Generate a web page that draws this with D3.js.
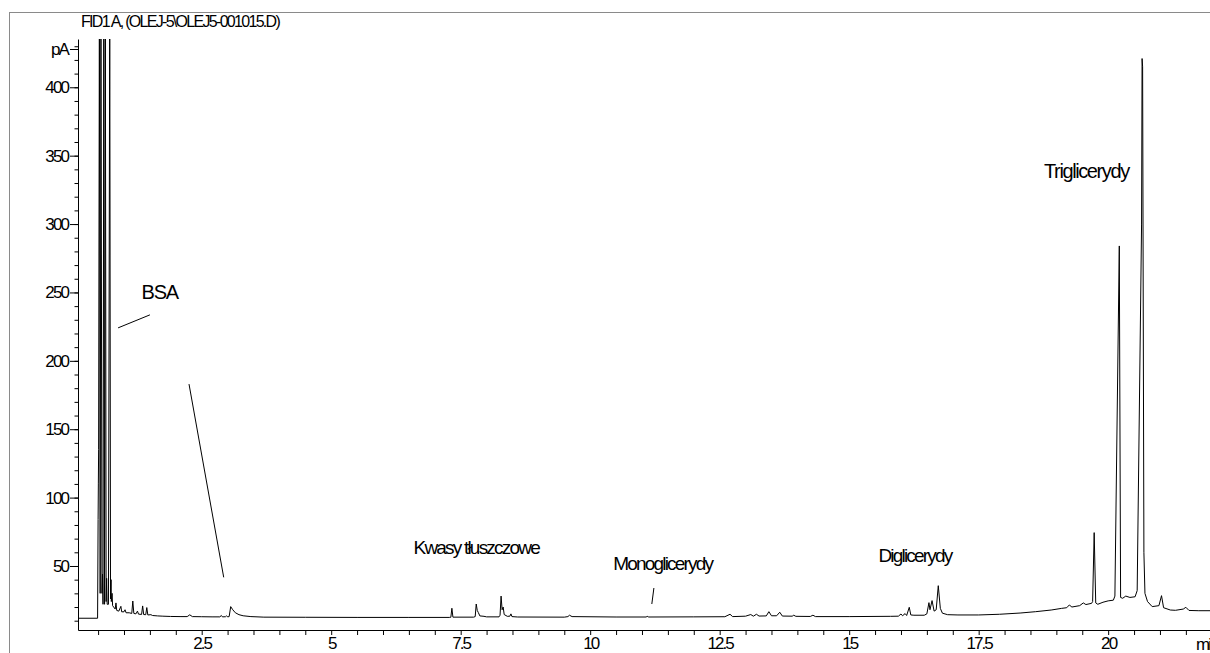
<!DOCTYPE html>
<html>
<head>
<meta charset="utf-8">
<script src="https://cdn.jsdelivr.net/npm/d3@7"></script>
<style>
  html, body { margin: 0; padding: 0; background: #fff; overflow: hidden; }
  svg { display: block; }
  text { font-family: "Liberation Sans", Arial, sans-serif; fill: #000; }
</style>
</head>
<body>
<svg id="chart" width="1210" height="653"></svg>
<script>
// FID detector trace: retention time (min) and signal (pA)
const timeMin = [
  0.11, 0.49, 0.50, 0.505, 0.51, 0.525, 0.54, 0.555, 0.575, 0.585, 0.595, 0.61, 0.625, 0.64, 0.655, 0.665, 0.675,
  0.70, 0.725, 0.74, 0.75, 0.755, 0.77, 0.78, 0.80, 0.83, 0.845, 0.86, 0.90, 0.94, 0.955, 1.00, 1.02, 1.04,
  1.10, 1.15, 1.17, 1.19, 1.23, 1.26, 1.28, 1.34, 1.36, 1.38, 1.42, 1.44, 1.46, 1.52, 1.55, 1.65, 1.75, 1.90,
  2.10, 2.22, 2.27, 2.32, 2.50, 2.70, 2.85, 2.88, 2.90, 2.96, 2.98, 3.00, 3.03, 3.06, 3.10, 3.15, 3.22, 3.30,
  3.45, 3.70, 4.50, 5.50, 6.50, 7.28, 7.31, 7.33, 7.35, 7.75, 7.78, 7.80, 7.82, 7.84, 7.87, 7.95, 8.00, 8.24,
  8.26, 8.28, 8.30, 8.32, 8.34, 8.40, 8.45, 8.47, 8.49, 8.60, 9.50, 9.57, 9.60, 9.65, 10.50, 11.08, 11.10, 11.13,
  12.00, 12.60, 12.70, 12.75, 13.00, 13.10, 13.15, 13.21, 13.26, 13.40, 13.45, 13.50, 13.60, 13.66, 13.71, 13.90,
  13.93, 13.97, 14.25, 14.30, 14.35, 15.00, 15.80, 15.95, 16.00, 16.03, 16.08, 16.11, 16.16, 16.19, 16.25, 16.45,
  16.50, 16.54, 16.56, 16.60, 16.64, 16.68, 16.72, 16.76, 16.80, 16.90, 17.10, 17.50, 17.90, 18.30, 18.60, 18.90,
  19.10, 19.20, 19.25, 19.30, 19.45, 19.52, 19.57, 19.68, 19.70, 19.73, 19.76, 19.80, 19.90, 20.00, 20.10, 20.13,
  20.215, 20.24, 20.28, 20.34, 20.42, 20.52, 20.56, 20.645, 20.655, 20.665, 20.69, 20.71, 20.76, 20.85, 20.98, 21.03,
  21.07, 21.20, 21.30, 21.45, 21.50, 21.56, 21.75, 22.00
];
const signalPA = [
  11.8, 11.8, 84, 110, 135, 460, 30, 460, 30, 44, 22, 460, 22, 460, 24, 41, 22,
  22, 460, 26, 40, 24, 30, 21, 20, 18.5, 23, 17.5, 17, 20.5, 16.5, 16.5, 18, 15.8,
  15.8, 15.3, 24.4, 15.3, 15, 17, 14.8, 14.6, 20.8, 14.5, 14.4, 19.6, 14.2, 14.4, 13.8, 13.5, 13.3, 13.1,
  13, 13, 14.3, 13, 12.9, 12.8, 12.8, 13.8, 12.8, 12.9, 13.6, 12.8, 13, 20.3, 18, 15.8, 14.4, 13.6,
  13, 12.6, 12.5, 12.4, 12.4, 12.4, 12.5, 19.1, 12.6, 12.6, 13, 22.2, 17.5, 16, 13.5, 13.2, 12.8, 12.8,
  14, 28, 18, 20, 14.5, 13.2, 13.3, 15, 13, 12.7, 12.6, 13, 14, 13, 12.7, 12.7, 13.2, 12.7,
  12.8, 12.9, 14.7, 13, 13.3, 14.5, 13.3, 14.7, 13.4, 13.5, 16.6, 13.6, 13.6, 16.2, 13.4, 13.3,
  14, 13.2, 13.1, 14, 13, 13, 13.2, 13.3, 14.9, 13.6, 15.2, 13.8, 19.8, 14.2, 14, 14,
  15, 23.2, 18, 24.7, 17, 18, 35.6, 19, 15.5, 14.4, 14.2, 14.2, 14.7, 15.6, 16.6, 17.8,
  19, 19.5, 21.5, 20, 21, 23, 21.8, 22.7, 24, 74.4, 23, 22, 23.5, 24.5, 25, 28,
  284, 27, 26.4, 28, 27, 27.5, 32, 300, 421, 415, 60, 30, 24, 20.3, 21, 28.3,
  19.5, 17.8, 17.6, 18.5, 19.8, 17.5, 17.3, 17.3
];

const xLabelTicks = [2.5, 5, 7.5, 10, 12.5, 15, 17.5, 20];
const xLabelText = ["2.5", "5", "7.5", "10", "12.5", "15", "17.5", "20"];
const yLabelTicks = [50, 100, 150, 200, 250, 300, 350, 400];
const yLabelText = ["50", "100", "150", "200", "250", "300", "350", "400"];

const title = "FID1 A,  (OLEJ-5\\OLEJ5-001015.D)";
const xUnit = "min";
const yUnit = "pA";

const groupNames = ["BSA", "Kwasy tłuszczowe", "Monoglicerydy", "Diglicerydy", "Triglicerydy"];

// ---- layout ----
const W = 1210, H = 653;
const plot = { left: 78, right: 1210, top: 39, bottom: 630 };
const svg = d3.select("#chart");

const x = d3.scaleLinear().domain([0.112, 21.966]).range([plot.left, plot.right]);
const y = d3.scaleLinear().domain([3.2, 435.3]).range([plot.bottom, plot.top]);

// outer frame
svg.append("rect")
  .attr("x", 9.5).attr("y", 12.5)
  .attr("width", W + 20).attr("height", H + 20)
  .attr("fill", "none").attr("stroke", "#8a8a8a").attr("stroke-width", 1);

// title
svg.append("text")
  .attr("x", 81).attr("y", 27)
  .attr("font-size", 16).attr("letter-spacing", -1.7)
  .text(title);

const fontSize = 17;
const tight = -1.9;

// x axis: ticks every 0.5 min, labels every 2.5 min
const xTicks = d3.range(0.5, 22, 0.5);
const xAxis = d3.axisBottom(x)
  .tickValues(xTicks)
  .tickSize(5)
  .tickSizeOuter(0)
  .tickPadding(2)
  .tickFormat(d => {
    const i = xLabelTicks.findIndex(v => Math.abs(v - d) < 1e-6);
    return i >= 0 ? xLabelText[i] : "";
  });
const gx = svg.append("g").attr("transform", `translate(0,${plot.bottom})`).call(xAxis);
gx.selectAll("text").attr("font-size", fontSize).attr("letter-spacing", tight)
  .attr("font-family", "Liberation Sans, Arial, sans-serif").attr("fill", "#000");
gx.selectAll("line,path").attr("stroke", "#000");

// unit label at the right end of the time axis
svg.append("text")
  .attr("x", 1196).attr("y", plot.bottom + 20)
  .attr("font-size", fontSize).attr("letter-spacing", tight)
  .text(xUnit);

// y axis: minor ticks every 10 pA, major labelled every 50 pA
const yMinor = d3.axisLeft(y)
  .tickValues(d3.range(10, 431, 10))
  .tickSize(3.5).tickSizeOuter(0).tickFormat("");
const gyMinor = svg.append("g").attr("transform", `translate(${plot.left},0)`).call(yMinor);
gyMinor.selectAll("line,path").attr("stroke", "#000");

const yMajor = d3.axisLeft(y)
  .tickValues(yLabelTicks.concat([428]))
  .tickSize(8).tickSizeOuter(0).tickPadding(2)
  .tickFormat(d => {
    const i = yLabelTicks.indexOf(d);
    return i >= 0 ? yLabelText[i] : yUnit;
  });
const gy = svg.append("g").attr("transform", `translate(${plot.left},0)`).call(yMajor);
gy.select("path.domain").remove();
gy.selectAll("line").attr("stroke", "#000");
gy.selectAll("text").attr("font-size", fontSize).attr("letter-spacing", tight)
  .attr("font-family", "Liberation Sans, Arial, sans-serif").attr("fill", "#000");

// signal trace
svg.append("clipPath").attr("id", "plotClip")
  .append("rect")
  .attr("x", plot.left).attr("y", plot.top)
  .attr("width", plot.right - plot.left).attr("height", plot.bottom - plot.top);

const pts = timeMin.map((t, i) => [t, signalPA[i]]);
const line = d3.line().x(d => x(d[0])).y(d => y(d[1]));
svg.append("path")
  .datum(pts)
  .attr("clip-path", "url(#plotClip)")
  .attr("fill", "none")
  .attr("stroke", "#000")
  .attr("stroke-width", 1)
  .attr("stroke-linejoin", "miter")
  .attr("d", line);

// compound-class annotations, anchored in time / pA units
const labelAnchors = [
  { name: groupNames[0], t: 1.69, v: 250, size: 20, ls: -1.2 },
  { name: groupNames[1], t: 7.80, v: 63.5, size: 19, ls: -1.8 },
  { name: groupNames[2], t: 11.40, v: 52, size: 19, ls: -1.8 },
  { name: groupNames[3], t: 16.27, v: 58, size: 19, ls: -1.8 },
  { name: groupNames[4], t: 19.58, v: 339, size: 20, ls: -1.4 }
];
svg.append("g").selectAll("text")
  .data(labelAnchors)
  .join("text")
  .attr("x", d => x(d.t))
  .attr("y", d => y(d.v))
  .attr("text-anchor", "middle")
  .attr("dominant-baseline", "central")
  .attr("font-size", d => d.size)
  .attr("letter-spacing", d => d.ls)
  .text(d => d.name);

const leaders = [
  { t1: 0.886, v1: 224.1, t2: 1.50, v2: 233.6 },
  { t1: 2.255, v1: 183, t2: 2.925, v2: 41.7 },
  { t1: 11.23, v1: 33.9, t2: 11.19, v2: 22.2 }
];
svg.append("g").selectAll("line")
  .data(leaders)
  .join("line")
  .attr("x1", d => x(d.t1)).attr("y1", d => y(d.v1))
  .attr("x2", d => x(d.t2)).attr("y2", d => y(d.v2))
  .attr("stroke", "#000").attr("stroke-width", 1);
</script>
</body>
</html>
